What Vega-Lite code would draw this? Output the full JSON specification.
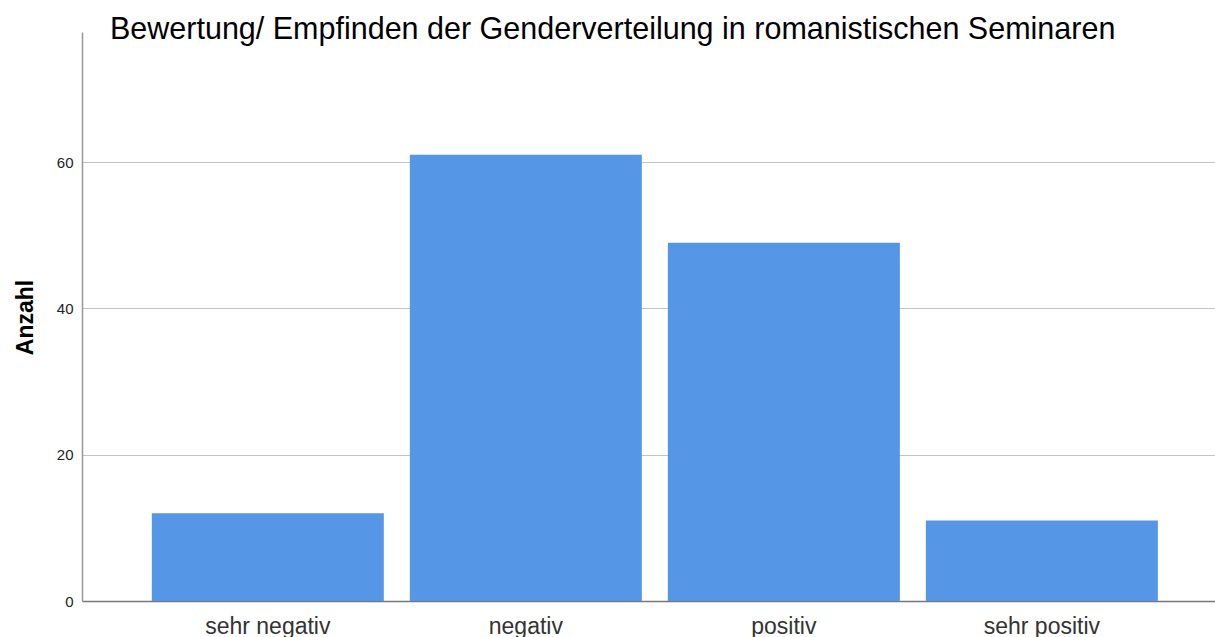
{
  "$schema": "https://vega.github.io/schema/vega-lite/v6.json",
  "autosize": {"type": "none"},
  "padding": {"left": 82, "top": 32, "right": 0, "bottom": 36},
  "width": 1133,
  "height": 569,
  "background": "white",
  "config": {"view": {"stroke": null}},
  "title": {
    "text": "Bewertung/ Empfinden der Genderverteilung in romanistischen Seminaren",
    "anchor": "start",
    "frame": "group",
    "font": "Liberation Sans",
    "fontSize": 30.5,
    "fontWeight": "normal",
    "color": "#000000",
    "baseline": "alphabetic",
    "dx": 28,
    "dy": 30,
    "offset": -7
  },
  "data": {
    "values": [
      {"Kategorie": "sehr negativ", "Anzahl": 12},
      {"Kategorie": "negativ", "Anzahl": 61},
      {"Kategorie": "positiv", "Anzahl": 49},
      {"Kategorie": "sehr positiv", "Anzahl": 11}
    ]
  },
  "mark": {"type": "bar", "color": "#5596e6"},
  "encoding": {
    "x": {
      "field": "Kategorie",
      "type": "nominal",
      "sort": ["sehr negativ", "negativ", "positiv", "sehr positiv"],
      "scale": {"paddingInner": 0.1008, "paddingOuter": 0.246, "align": 0.55},
      "axis": {
        "title": null,
        "labelAngle": 0,
        "ticks": false,
        "labelFont": "Liberation Sans",
        "labelFontSize": 23,
        "labelColor": "#333333",
        "labelBaseline": "alphabetic",
        "labelPadding": 32,
        "domainColor": "#777777",
        "domainWidth": 1.5,
        "grid": false
      }
    },
    "y": {
      "field": "Anzahl",
      "type": "quantitative",
      "scale": {"domain": [0, 77.8], "nice": false},
      "axis": {
        "values": [0, 20, 40, 60],
        "ticks": false,
        "labelPadding": 9,
        "labelFont": "Liberation Sans",
        "labelFontSize": 15,
        "labelColor": "#222222",
        "domainColor": "#999999",
        "domainWidth": 1.5,
        "grid": true,
        "gridColor": "#c4c4c4",
        "gridWidth": 1.2,
        "title": "Anzahl",
        "titleFont": "Liberation Sans",
        "titleFontSize": 23,
        "titleFontWeight": "bold",
        "titleColor": "#000000",
        "titleBaseline": "alphabetic",
        "titleX": -50,
        "titleY": 285
      }
    }
  }
}
